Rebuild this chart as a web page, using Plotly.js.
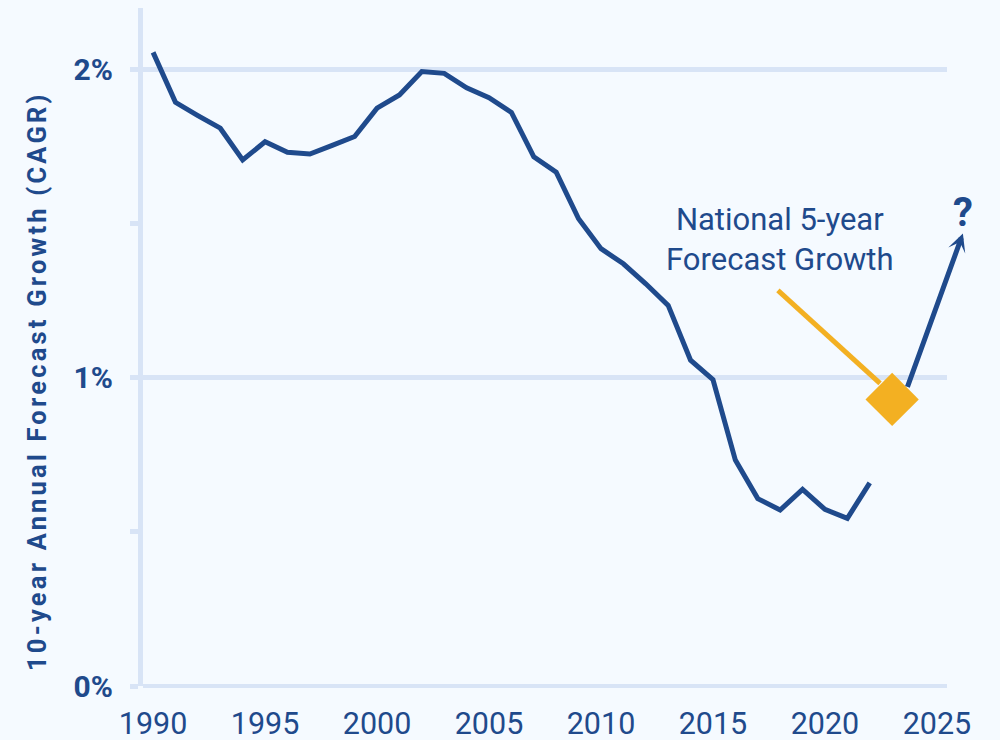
<!DOCTYPE html>
<html>
<head>
<meta charset="utf-8">
<script src="https://cdn.plot.ly/plotly-3.0.1.min.js"></script>
<style>
  html, body { margin: 0; padding: 0; background: #f5faff; }
  #chart { width: 1000px; height: 740px; }
  .annotation[data-index="0"] .annotation-text { letter-spacing: 3.2px; }
</style>
</head>
<body>
<div id="chart"></div>
<script>
// 10-year annual forecast growth, history
var years = [1990, 1991, 1992, 1993, 1994, 1995, 1996, 1997, 1998, 1999,
             2000, 2001, 2002, 2003, 2004, 2005, 2006, 2007, 2008, 2009,
             2010, 2011, 2012, 2013, 2014, 2015, 2016, 2017, 2018, 2019,
             2020, 2021, 2022];
var growth = [2.056, 1.894, 1.851, 1.810, 1.707, 1.766, 1.732, 1.726, 1.754, 1.783,
              1.875, 1.918, 1.994, 1.988, 1.941, 1.909, 1.861, 1.717, 1.667, 1.516,
              1.419, 1.370, 1.305, 1.235, 1.057, 0.994, 0.733, 0.608, 0.571, 0.638,
              0.573, 0.544, 0.659];

// national 5-year forecast point
var forecastYear = [2023];
var forecastGrowth = [0.93];

var xTicks = [1990, 1995, 2000, 2005, 2010, 2015, 2020, 2025];
var yTicks = [0, 1, 2];
var yTickText = ['0%', '1%', '2%'];
var yMinorTicks = [0.5, 1.5];

var blue = '#1f4a8c';
var orange = '#f3b022';
var grid = '#d8e4f6';
var bg = '#f5faff';

var pastTrace = {
    x: years,
    y: growth,
    type: 'scatter',
    mode: 'lines',
    line: { color: blue, width: 5 },
    hoverinfo: 'skip'
};

var forecastTrace = {
    x: forecastYear,
    y: forecastGrowth,
    type: 'scatter',
    mode: 'markers',
    marker: { symbol: 'diamond', size: 41, color: orange, line: { width: 0 } },
    cliponaxis: false,
    hoverinfo: 'skip'
};

var layout = {
    width: 1000,
    height: 740,
    margin: { l: 143, r: 53, t: 8, b: 54 },
    paper_bgcolor: bg,
    plot_bgcolor: bg,
    showlegend: false,
    font: { family: 'Roboto, sans-serif', color: blue },
    xaxis: {
        range: [1989.55, 2025.45],
        tickvals: xTicks,
        showgrid: false,
        zeroline: false,
        showline: false,
        ticks: '',
        ticklabelstandoff: 16,
        tickfont: { family: 'Roboto', size: 30.5, color: blue }
    },
    yaxis: {
        range: [0, 2.2],
        tickvals: yTicks,
        ticktext: yTickText,
        showgrid: true,
        gridcolor: grid,
        gridwidth: 5,
        zeroline: true,
        zerolinecolor: grid,
        zerolinewidth: 4,
        showline: true,
        linecolor: grid,
        linewidth: 5,
        ticks: 'outside',
        ticklen: 8,
        tickwidth: 5,
        tickcolor: grid,
        ticklabelstandoff: 11,
        minor: {
            tickvals: yMinorTicks,
            ticks: 'outside',
            ticklen: 8,
            tickwidth: 5,
            tickcolor: grid,
            showgrid: false
        },
        tickfont: { family: 'Roboto', size: 30, color: blue, weight: 'bold' }
    },
    shapes: [{
        type: 'line',
        layer: 'between',
        xref: 'x', yref: 'y',
        x0: 2017.9, y0: 1.284,
        x1: 2022.46, y1: 0.982,
        line: { color: orange, width: 5 }
    }],
    annotations: [
        {
            // y axis title
            text: '10-year Annual Forecast Growth (CAGR)',
            xref: 'paper', yref: 'paper',
            x: -0.132, y: 0.45,
            xanchor: 'center', yanchor: 'middle',
            textangle: -90,
            showarrow: false,
            font: { family: 'Roboto', size: 25.5, color: blue, weight: 'bold' }
        },
        {
            text: 'National 5-year<br>Forecast Growth',
            xref: 'x', yref: 'y',
            x: 2018.0, y: 1.449,
            xanchor: 'center', yanchor: 'middle',
            showarrow: false,
            font: { family: 'Roboto', size: 31, color: blue }
        },
        {
            // projection arrow
            text: '',
            xref: 'x', yref: 'y',
            axref: 'x', ayref: 'y',
            x: 2026.16, y: 1.468,
            ax: 2023.66, ay: 0.966,
            showarrow: true,
            arrowhead: 3,
            arrowsize: 0.6,
            arrowwidth: 5,
            arrowcolor: blue
        },
        {
            text: '?',
            xref: 'paper', yref: 'paper',
            x: 1.02, y: 0.699,
            xanchor: 'center', yanchor: 'middle',
            showarrow: false,
            font: { family: 'Roboto', size: 40, color: blue, weight: 'bold' }
        }
    ]
};

Plotly.newPlot('chart', [pastTrace, forecastTrace], layout, { displayModeBar: false, staticPlot: true });
</script>
</body>
</html>
